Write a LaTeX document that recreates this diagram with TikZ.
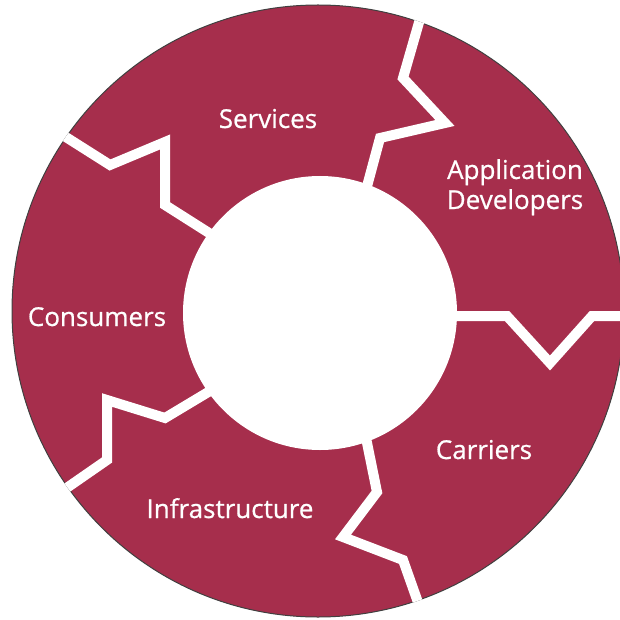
\documentclass[tikz,border=0pt]{standalone}
\usepackage{fontspec}
\setmainfont{Open Sans}
\newfontfamily\lblfont{Open Sans}[FakeBold=0.7]
\definecolor{ringred}{RGB}{166,46,76}
\begin{document}
\begin{tikzpicture}[x=1pt,y=-1pt,
  sep/.style={draw=white,line width=10pt,line join=miter,miter limit=10},
  lbl/.style={text=white,font=\lblfont\fontsize{26}{30}\selectfont,inner sep=0pt,anchor=base,align=center}]
\useasboundingbox (0,0) rectangle (620,620);
\coordinate (oc) at (318,311);
\coordinate (ic) at (320,313);
\fill[ringred] (oc) circle[radius=306];
\draw[black!75,line width=1pt] (oc) circle[radius=306];
\begin{scope}
\clip (oc) circle[radius=306.5];
\draw[sep] (362,205) -- (380,138) -- (445,123) -- (403,78) -- (424,5);
\draw[sep] (440,316) -- (507,316) -- (550,363) -- (592,316) -- (640,316);
\draw[sep] (364,428) -- (377,492) -- (343,537) -- (403,560) -- (426,625);
\draw[sep] (225,382) -- (165,418) -- (107,400) -- (107,460) -- (45,503);
\draw[sep] (50,127) -- (110,165) -- (165,142) -- (165,205) -- (228,245);
\end{scope}
\fill[white] (ic) circle[radius=137];
\node[lbl] (services) at (268,128) {Services};
\node[lbl] (appdev) at (515,209) {Application\\Developers};
\node[lbl] (consumers) at (97,326) {Consumers};
\node[lbl] (carriers) at (484,459) {Carriers};
\node[lbl] (infra) at (230,518) {Infrastructure};
\end{tikzpicture}
\end{document}
